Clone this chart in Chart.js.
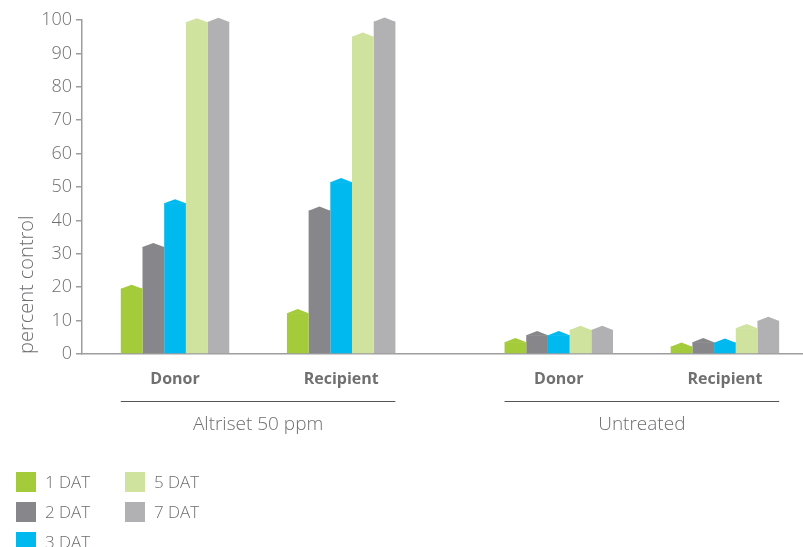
<!DOCTYPE html>
<html>
<head>
<meta charset="utf-8">
<script src="https://cdn.jsdelivr.net/npm/chart.js@4.4.1/dist/chart.umd.min.js"></script>
<style>
  body { margin: 0; background: #fff; }
  #wrap { position: relative; width: 803px; height: 547px; overflow: hidden; }
  #legend {
    position: absolute; left: 16px; top: 472px;
    display: grid; grid-template-columns: 109px 109px; grid-template-rows: 30px 30px 30px;
    grid-auto-flow: column;
    font-family: "Open Sans", sans-serif; font-weight: 300; font-size: 17px; color: #6d6e71;
  }
  #legend .item { display: flex; align-items: flex-start; height: 30px; }
  #legend .box { width: 20px; height: 20px; margin-right: 9px; flex: none; }
  #legend .txt { line-height: 20px; }
</style>
</head>
<body>
<div id="wrap">
  <canvas id="myChart" width="803" height="547"></canvas>
  <div id="legend"></div>
</div>
<script>
// categories and where they sit on the x axis (gap between the two treatment groups)
const categories = ['Donor', 'Recipient', 'Donor', 'Recipient'];
const positions = [0, 1, 2.31, 3.31];
const groups = [
  { label: 'Altriset 50 ppm', first: 0, last: 1 },
  { label: 'Untreated', first: 2, last: 3 }
];

// percent control per series
const seriesNames = ['1 DAT', '2 DAT', '3 DAT', '5 DAT', '7 DAT'];
const dat1 = [19.5, 12.2, 3.5, 2.2];
const dat2 = [32.0, 42.9, 5.6, 3.5];
const dat3 = [45.1, 51.4, 5.6, 3.4];
const dat5 = [99.3, 95.0, 7.2, 7.7];
const dat7 = [99.4, 99.5, 7.2, 9.9];
const colors = ['#a4cb3a', '#87868b', '#00b9ee', '#cfe29e', '#b1b1b3'];

const yTicks = [0, 10, 20, 30, 40, 50, 60, 70, 80, 90, 100];

const textGray = '#6d6e71';
const axisGray = '#9d9d9f';

const allSeries = [dat1, dat2, dat3, dat5, dat7];
const datasets = allSeries.map((vals, s) => ({
  label: seriesNames[s],
  data: vals.map((v, i) => ({ x: positions[i], y: v })),
  backgroundColor: colors[s],
  borderWidth: 0,
  categoryPercentage: 0.653,
  barPercentage: 1.0
}));

// little roof on top of every bar
const peakPlugin = {
  id: 'peaks',
  afterDatasetsDraw(chart) {
    const ctx = chart.ctx;
    chart.data.datasets.forEach((ds, di) => {
      const meta = chart.getDatasetMeta(di);
      meta.data.forEach(el => {
        const p = el.getProps(['x', 'y', 'width'], true);
        const h = 4.2;
        ctx.save();
        ctx.fillStyle = ds.backgroundColor;
        ctx.beginPath();
        ctx.moveTo(p.x - p.width / 2, p.y + 0.5);
        ctx.lineTo(p.x - p.width / 2, p.y);
        ctx.lineTo(p.x, p.y - h);
        ctx.lineTo(p.x + p.width / 2, p.y);
        ctx.lineTo(p.x + p.width / 2, p.y + 0.5);
        ctx.closePath();
        ctx.fill();
        ctx.restore();
      });
    });
  }
};

// group lines and labels under the x axis
const groupPlugin = {
  id: 'groups',
  afterDraw(chart) {
    const ctx = chart.ctx;
    const firstMeta = chart.getDatasetMeta(0);
    const lastMeta = chart.getDatasetMeta(chart.data.datasets.length - 1);
    const base = chart.chartArea.bottom;
    groups.forEach(g => {
      const a = firstMeta.data[g.first];
      const b = lastMeta.data[g.last];
      const left = a.x - a.width / 2;
      const right = b.x + b.width / 2;
      ctx.save();
      ctx.strokeStyle = '#555';
      ctx.lineWidth = 1;
      ctx.beginPath();
      ctx.moveTo(left, base + 47.5);
      ctx.lineTo(right, base + 47.5);
      ctx.stroke();
      ctx.fillStyle = textGray;
      ctx.font = '300 19px "Open Sans"';
      ctx.textAlign = 'center';
      ctx.textBaseline = 'middle';
      ctx.fillText(g.label, (left + right) / 2, base + 71);
      ctx.restore();
    });
  }
};

const chart = new Chart(document.getElementById('myChart'), {
  type: 'bar',
  data: { datasets: datasets },
  options: {
    responsive: false,
    animation: false,
    layout: { padding: { top: 20, right: 0, bottom: 0, left: 0 } },
    plugins: {
      legend: { display: false },
      tooltip: { enabled: false }
    },
    scales: {
      x: {
        type: 'linear',
        min: -0.56,
        max: 3.78,
        offset: false,
        grid: { display: false, offset: false },
        border: { display: true, color: axisGray, width: 1.5 },
        afterBuildTicks: scale => { scale.ticks = positions.map(v => ({ value: v })); },
        afterFit: scale => { scale.height = 193; },
        ticks: {
          autoSkip: false,
          maxRotation: 0,
          padding: 8,
          color: '#707070',
          font: { family: 'Open Sans', size: 16, weight: 'bold' },
          callback: (value, index) => categories[index]
        }
      },
      y: {
        min: 0,
        max: 100,
        afterBuildTicks: scale => { scale.ticks = yTicks.map(v => ({ value: v })); },
        afterFit: scale => { scale.width = 82; },
        grid: { drawOnChartArea: false, tickLength: 6, color: axisGray, lineWidth: 1.5 },
        border: { display: true, color: axisGray, width: 1.5 },
        ticks: {
          padding: 4,
          color: textGray,
          font: { family: 'Open Sans', size: 18, weight: 300 }
        },
        title: {
          display: true,
          text: 'percent control',
          align: 'start',
          color: textGray,
          padding: { top: 15, bottom: 0 },
          font: { family: 'Open Sans', size: 20, weight: 300 }
        }
      }
    }
  },
  plugins: [peakPlugin, groupPlugin]
});

// html legend, column-wise like the original
const legendEl = document.getElementById('legend');
chart.data.datasets.forEach(ds => {
  const item = document.createElement('div');
  item.className = 'item';
  const box = document.createElement('span');
  box.className = 'box';
  box.style.background = ds.backgroundColor;
  const txt = document.createElement('span');
  txt.className = 'txt';
  txt.textContent = ds.label;
  item.appendChild(box);
  item.appendChild(txt);
  legendEl.appendChild(item);
});
</script>
</body>
</html>
